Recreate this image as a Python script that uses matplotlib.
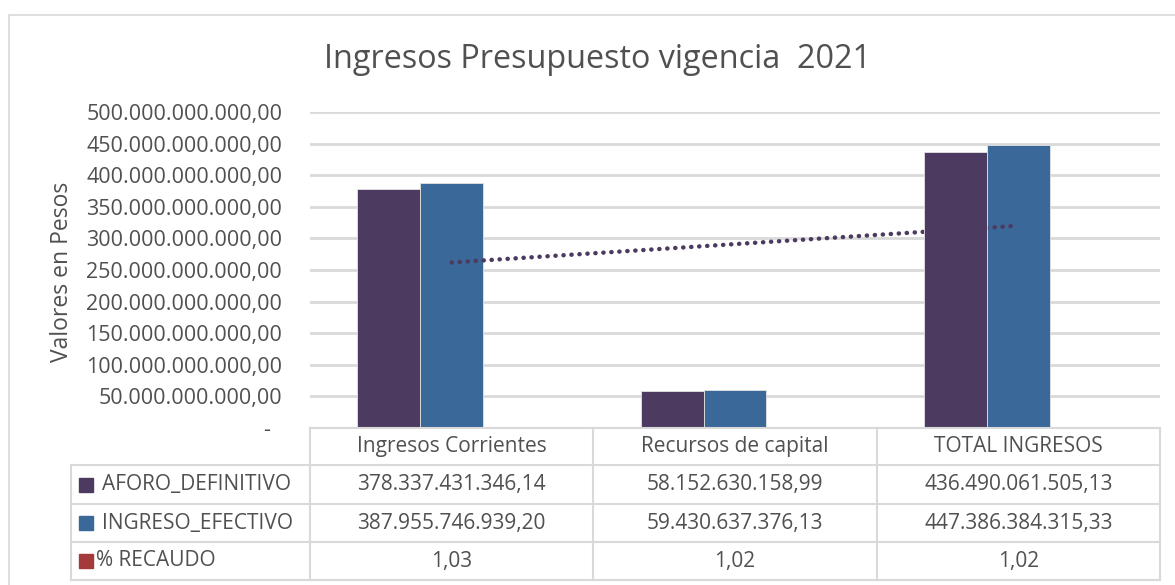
import numpy as np
import matplotlib
matplotlib.use("Agg")
from matplotlib import pyplot as plt
from matplotlib.lines import Line2D
from matplotlib.patches import Rectangle
from matplotlib import transforms

# data
categories = ["Ingresos Corrientes", "Recursos de capital", "TOTAL INGRESOS"]
aforo_definitivo = [378337431346.14, 58152630158.99, 436490061505.13]
ingreso_efectivo = [387955746939.20, 59430637376.13, 447386384315.33]
pct_recaudo = [1.03, 1.02, 1.02]
series_names = ["AFORO_DEFINITIVO", "INGRESO_EFECTIVO", "% RECAUDO"]
y_ticks = [0, 50e9, 100e9, 150e9, 200e9, 250e9, 300e9, 350e9, 400e9, 450e9, 500e9]

PURPLE = "#4D3A60"
BLUE = "#3A6899"
RED = "#A53A3A"
GRID = "#D9D9D9"
TXT = "#505050"

plt.rcParams['font.family'] = ['Open Sans', 'DejaVu Sans']

W, H = 1175, 585
fig = plt.figure(figsize=(W / 100, H / 100), dpi=100)


def fx(px):
    return px / W


def fy(py):
    return 1 - py / H


def fmt_es(v):
    s = f"{v:,.2f}"
    return s.replace(",", "X").replace(".", ",").replace("X", ".")


# outer chart frame
fig.add_artist(Rectangle((fx(9), fy(600)), fx(1200), fy(15) - fy(600),
                         transform=fig.transFigure, fill=False,
                         edgecolor=GRID, lw=1.2))

ax = fig.add_axes([fx(310), fy(428), fx(1160) - fx(310), fy(112) - fy(428)])
x = np.arange(len(categories))
bw = 1 / 1.5 / 3

ax.bar(x - bw, aforo_definitivo, bw, color=PURPLE, edgecolor="#E3E3E3", lw=0.6, zorder=4)
ax.bar(x, ingreso_efectivo, bw, color=BLUE, edgecolor="#E3E3E3", lw=0.6, zorder=2)
ax.bar(x + bw, pct_recaudo, bw, color=RED, zorder=2)

# linear trendline of AFORO_DEFINITIVO
coef = np.polyfit(x + 1, aforo_definitivo, 1)
tx = np.array([x[0], x[-1]])
ax.plot(tx, np.polyval(coef, tx + 1), color=PURPLE, lw=3.2,
        linestyle=(0, (0.05, 1.75)), dash_capstyle="round", zorder=3)

ax.set_xlim(-0.5, len(categories) - 0.5)
ax.set_ylim(0, 500e9)
ax.set_yticks(y_ticks)
ax.set_yticklabels(["-  "] + [fmt_es(v) for v in y_ticks[1:]],
                   fontsize=15.5, color=TXT)
ax.tick_params(axis="y", length=0, pad=20)
ax.set_xticks([])
ax.yaxis.grid(True, color=GRID, lw=2)
ax.set_axisbelow(True)
for s in ax.spines.values():
    s.set_visible(False)

fig.text(fx(598), fy(60), "Ingresos Presupuesto vigencia  2021", fontsize=23.3,
         color=TXT, ha="center", va="center")
fig.text(fx(62), fy(272), "Valores en Pesos", fontsize=16.5, color=TXT,
         rotation=90, ha="center", va="center")

# data table below the axes
bt = transforms.blended_transform_factory(ax.transData, fig.transFigure)
rows_y = [428, 465, 504, 542, 580]
edges = np.arange(len(categories) + 1) - 0.5
lab_left = 71

for i, ry in enumerate(rows_y):
    if i > 0:
        fig.add_artist(Line2D([fx(lab_left), fx(310)], [fy(ry)] * 2,
                              transform=fig.transFigure, color=GRID, lw=1.5))
    fig.add_artist(Line2D([edges[0], edges[-1]], [fy(ry)] * 2, transform=bt,
                          color=GRID, lw=1.5))
for e in edges:
    fig.add_artist(Line2D([e, e], [fy(rows_y[0]), fy(rows_y[-1])], transform=bt,
                          color=GRID, lw=1.5))
fig.add_artist(Line2D([fx(lab_left)] * 2, [fy(rows_y[1]), fy(rows_y[-1])],
                      transform=fig.transFigure, color=GRID, lw=1.5))

for j, c in enumerate(categories):
    fig.text(x[j], fy((rows_y[0] + rows_y[1]) / 2), c, transform=bt,
             fontsize=15, color=TXT, ha="center", va="center")

table_vals = [aforo_definitivo, ingreso_efectivo, pct_recaudo]
colors = [PURPLE, BLUE, RED]
for i, (name, vals, col) in enumerate(zip(series_names, table_vals, colors)):
    cy = (rows_y[i + 1] + rows_y[i + 2]) / 2
    fig.add_artist(Rectangle((fx(79), fy(cy + 7)), fx(14), fy(cy - 7) - fy(cy + 7),
                             transform=fig.transFigure, color=col))
    fig.text(fx(102 if i < 2 else 96), fy(cy), name, fontsize=15, color=TXT,
             ha="left", va="center")
    for j, v in enumerate(vals):
        fig.text(x[j], fy(cy), fmt_es(v), transform=bt, fontsize=15, color=TXT,
                 ha="center", va="center")

fig.savefig("out.png", dpi=100)
